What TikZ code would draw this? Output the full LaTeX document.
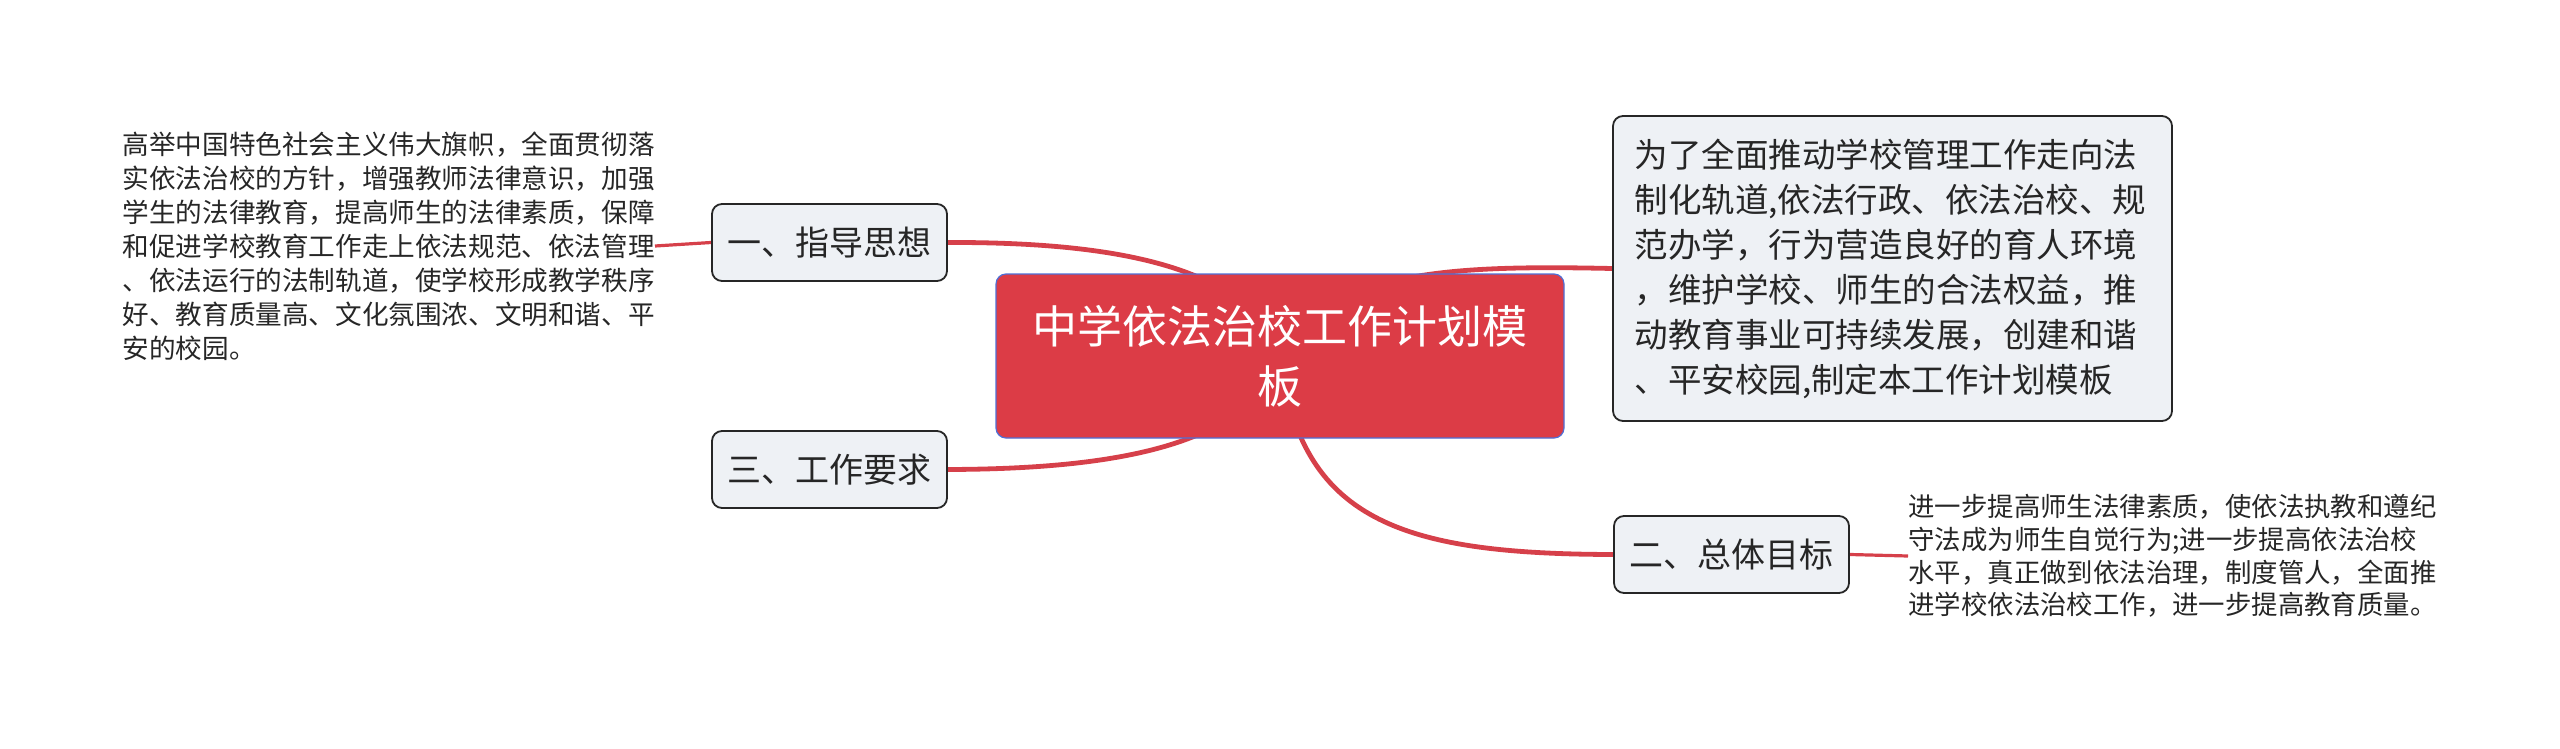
\documentclass[tikz,border=0pt]{standalone}
\usepackage{fontspec}
\setmainfont{Noto Sans CJK SC}
\usepackage{tikz}
\usetikzlibrary{backgrounds}
\definecolor{mapred}{HTML}{D6404A}
\definecolor{rootred}{HTML}{DC3C46}
\definecolor{rootblue}{HTML}{4F6FD6}
\definecolor{topicgray}{HTML}{EEF1F5}
\definecolor{inkgray}{HTML}{262626}

\begin{document}
\begin{tikzpicture}[x=0.5pt,y=-0.5pt,
  rootbox/.style={draw=rootblue,line width=0.6pt,fill=rootred,rounded corners=5pt,
    minimum width=284pt,minimum height=82pt,text=white,align=center,
    font=\fontsize{22.5pt}{30pt}\selectfont},
  topicbox/.style={draw=inkgray,line width=0.9pt,fill=topicgray,rounded corners=5pt,
    minimum width=117.5pt,minimum height=38.5pt,text=inkgray,
    font=\fontsize{17pt}{21pt}\selectfont},
  notetext/.style={text=inkgray,align=left,inner sep=0pt,
    font=\fontsize{13.3pt}{17pt}\selectfont},
  branch/.style={draw=mapred,line width=2.4pt,line cap=round},
  twig/.style={draw=mapred,line width=1.6pt}]
  \useasboundingbox (0,0) rectangle (2560,749);

  % main topic and branches
  \node[rootbox] (root) at (1280,356) {中学依法治校工作计划模\\板};
  \node[topicbox] (guide) at (829.5,242.5) {一、指导思想};
  \node[topicbox] (demand) at (829.5,469.5) {三、工作要求};
  \node[topicbox] (goal) at (1731.5,554.5) {二、总体目标};
  \node[topicbox,minimum width=279.5pt,minimum height=152.5pt,text width=258pt,
    align=left,font=\fontsize{16.75pt}{22.5pt}\selectfont] (purpose) at (1892.5,268.5)
    {为了全面推动学校管理工作走向法\\
     制化轨道,依法行政、依法治校、规\\
     范办学，行为营造良好的育人环境\\
     ，维护学校、师生的合法权益，推\\
     动教育事业可持续发展，创建和谐\\
     、平安校园,制定本工作计划模板};

  % notes
  \node[notetext,anchor=east] (guidenote) at (655,246)
    {高举中国特色社会主义伟大旗帜，全面贯彻落\\
     实依法治校的方针，增强教师法律意识，加强\\
     学生的法律教育，提高师生的法律素质，保障\\
     和促进学校教育工作走上依法规范、依法管理\\
     、依法运行的法制轨道，使学校形成教学秩序\\
     好、教育质量高、文化氛围浓、文明和谐、平\\
     安的校园。};
  \node[notetext,anchor=west,font=\fontsize{13.2pt}{16.3pt}\selectfont] (goalnote) at (1908,556)
    {进一步提高师生法律素质，使依法执教和遵纪\\
     守法成为师生自觉行为;进一步提高依法治校\\
     水平，真正做到依法治理，制度管人，全面推\\
     进学校依法治校工作，进一步提高教育质量。};

  \begin{scope}[on background layer]
    \draw[branch] (root.center) .. controls (1250,262) and (1100,242) .. (guide.east);
    \draw[branch] (root.center) .. controls (1250,450) and (1100,469) .. (demand.east);
    \draw[branch] (root.center) .. controls (1330,270) and (1450,265) .. (purpose.west);
    \draw[branch] (root.center) .. controls (1300,520) and (1400,554) .. (goal.west);
    \draw[twig] (guide.west) -- (guidenote.east);
    \draw[twig] (goal.east) -- (goalnote.west);
  \end{scope}
\end{tikzpicture}
\end{document}
